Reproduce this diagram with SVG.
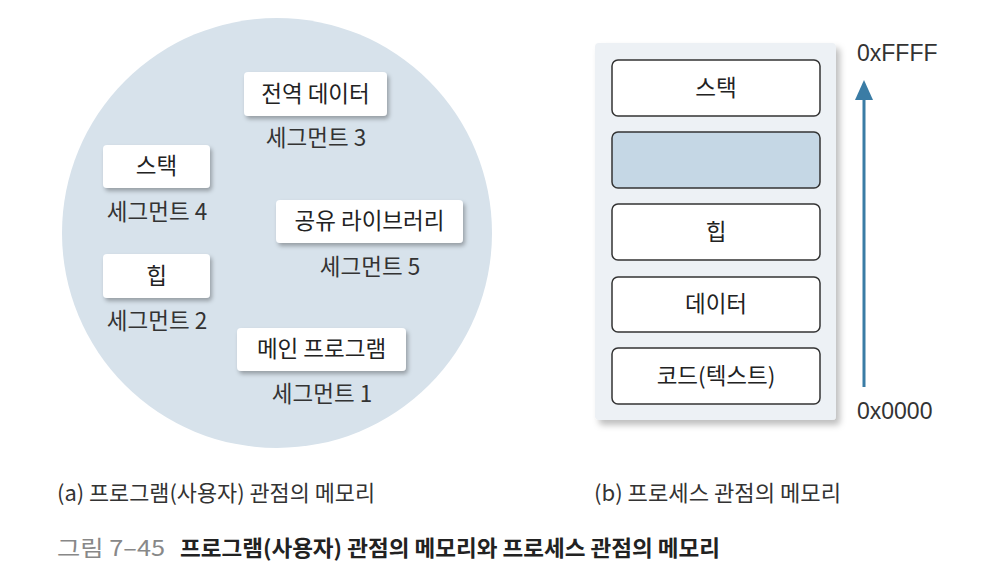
<svg xmlns="http://www.w3.org/2000/svg" width="984" height="576" viewBox="0 0 984 576">
<style>
text{font-family:"Noto Sans CJK KR","Noto Sans",sans-serif;fill:#222}
.lbl{font-size:22.5px;text-anchor:middle}
.seg{font-size:22.5px;text-anchor:middle;fill:#333}
.wb{fill:#fff;rx:4}
.mb{fill:#fff;stroke:#333;stroke-width:1.5;rx:6}
.cap{font-size:21.5px;fill:#333}
.hex{font-size:23px;font-family:"Liberation Sans","Noto Sans",sans-serif;fill:#333}
</style>
<defs>
<filter id="sh" x="-20%" y="-20%" width="140%" height="160%">
<feDropShadow dx="2" dy="3" stdDeviation="2" flood-color="#000" flood-opacity="0.3"/>
</filter>
<filter id="sh2" x="-10%" y="-10%" width="125%" height="125%">
<feDropShadow dx="4" dy="5" stdDeviation="3" flood-color="#000" flood-opacity="0.25"/>
</filter>
<marker id="ah" viewBox="0 0 20 18" refX="10" refY="9" markerWidth="20" markerHeight="18" markerUnits="userSpaceOnUse" orient="auto">
<path d="M0,0 L20,9 L0,18 Z" fill="#3a7ca5"/>
</marker>
</defs>

<g id="program-view">
<circle cx="277" cy="233" r="215" fill="#d7e2eb"/>
<g id="node-global"><rect class="wb" x="244" y="72" width="143" height="44" filter="url(#sh)"/><text class="lbl" x="315.5" y="102">전역 데이터</text><text class="seg" x="316" y="146">세그먼트 3</text></g>
<g id="node-stack-a"><rect class="wb" x="103" y="145" width="107" height="43" filter="url(#sh)"/><text class="lbl" x="156.5" y="174">스택</text><text class="seg" x="157" y="220">세그먼트 4</text></g>
<g id="node-shared"><rect class="wb" x="276" y="200" width="187" height="43" filter="url(#sh)"/><text class="lbl" x="369.5" y="229">공유 라이브러리</text><text class="seg" x="370" y="275">세그먼트 5</text></g>
<g id="node-heap-a"><rect class="wb" x="103" y="254" width="107" height="44" filter="url(#sh)"/><text class="lbl" x="156.5" y="284">힙</text><text class="seg" x="157" y="329">세그먼트 2</text></g>
<g id="node-main"><rect class="wb" x="237" y="328" width="169" height="43" filter="url(#sh)"/><text class="lbl" x="321.5" y="357">메인 프로그램</text><text class="seg" x="322" y="402">세그먼트 1</text></g>
</g>

<g id="process-view">
<rect x="595" y="43" width="241" height="377" rx="4" fill="#edf1f5" filter="url(#sh2)"/>
<g id="node-stack-b"><rect class="mb" x="612" y="60" width="208" height="56"/><text class="lbl" x="716" y="96">스택</text></g>
<g id="node-free"><rect class="mb" x="612" y="132" width="208" height="56" style="fill:#c5d7e5"/></g>
<g id="node-heap-b"><rect class="mb" x="612" y="204" width="208" height="56"/><text class="lbl" x="716" y="240">힙</text></g>
<g id="node-data"><rect class="mb" x="612" y="277" width="208" height="55"/><text class="lbl" x="716" y="312">데이터</text></g>
<g id="node-code"><rect class="mb" x="612" y="348" width="208" height="56"/><text class="lbl" x="716" y="384">코드(텍스트)</text></g>
</g>

<g id="connectors">
<line x1="864" y1="387" x2="864" y2="90" stroke="#3a7ca5" stroke-width="3" marker-end="url(#ah)"/>
</g>
<text class="hex" x="857" y="61">0xFFFF</text>
<text class="hex" x="857" y="419">0x0000</text>

<text class="cap" x="57" y="501" textLength="318" lengthAdjust="spacingAndGlyphs">(a) 프로그램(사용자) 관점의 메모리</text>
<text class="cap" x="594" y="501" textLength="247" lengthAdjust="spacingAndGlyphs">(b) 프로세스 관점의 메모리</text>
<text x="57" y="556" style="font-size:22px;fill:#888" textLength="108" lengthAdjust="spacingAndGlyphs">그림 7–45</text>
<text x="180" y="556" style="font-size:22px;font-weight:bold;fill:#222" textLength="540" lengthAdjust="spacingAndGlyphs">프로그램(사용자) 관점의 메모리와 프로세스 관점의 메모리</text>
</svg>
